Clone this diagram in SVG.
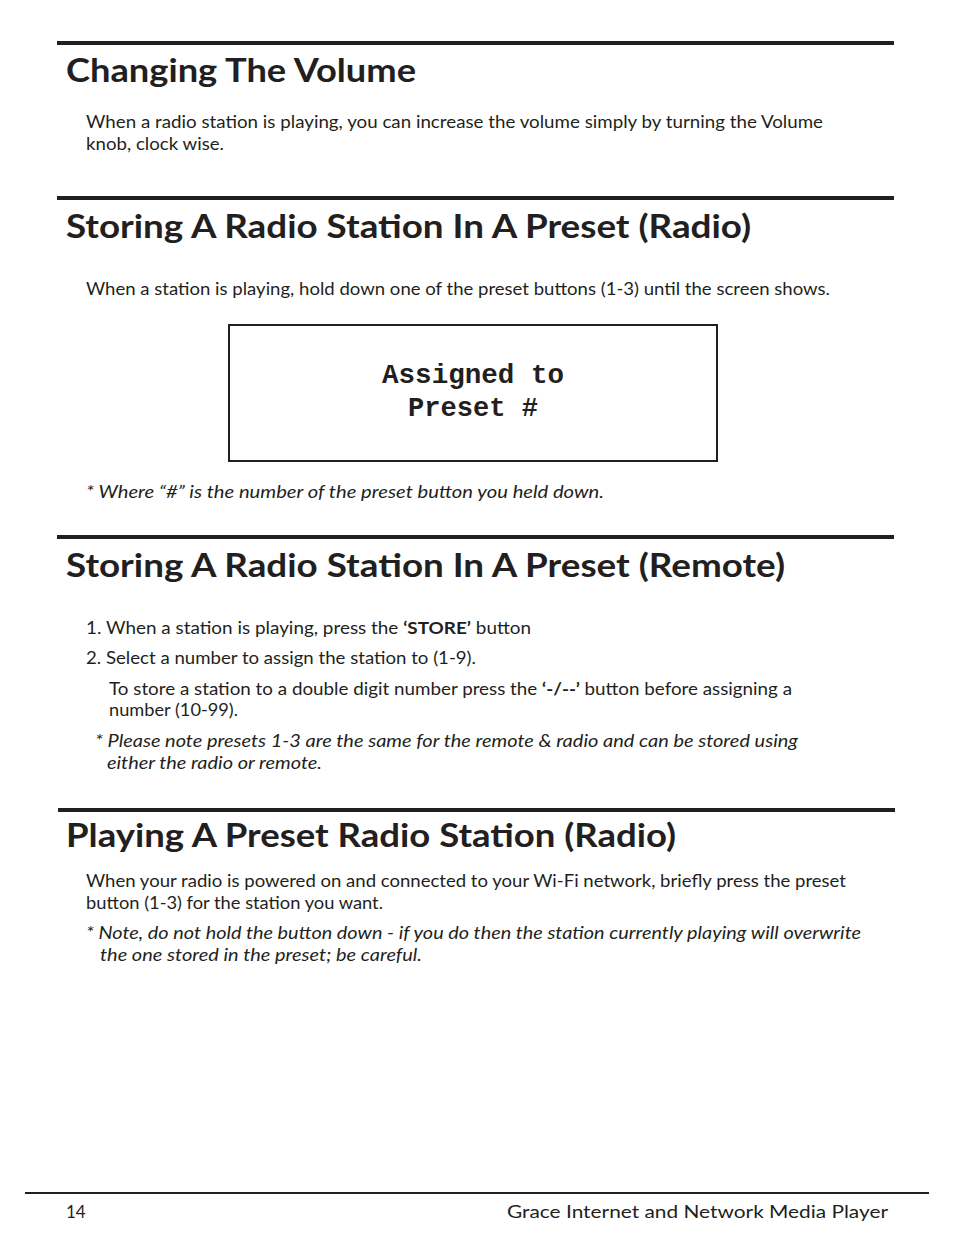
<svg xmlns="http://www.w3.org/2000/svg" width="954" height="1235" viewBox="0 0 954 1235">
<style>
.h{font-family:Lato,"Open Sans",sans-serif;font-size:33px;font-weight:bold;fill:#231f20}
.b{font-family:Lato,"Open Sans",sans-serif;font-size:17px;fill:#231f20}
.i{font-style:italic}
.m{font-family:"Liberation Mono","DejaVu Sans Mono",monospace;font-weight:bold;font-size:27px;fill:#231f20}
.r{stroke:#231f20;stroke-width:4}
</style>
<rect width="954" height="1235" fill="#fff"/>
<line class="r" x1="57" y1="43" x2="894" y2="43"/>
<text class="h" x="66" y="82" textLength="350" lengthAdjust="spacingAndGlyphs">Changing The Volume</text>
<text class="b" x="86" y="128" textLength="737" lengthAdjust="spacingAndGlyphs">When a radio station is playing, you can increase the volume simply by turning the Volume</text>
<text class="b" x="86" y="150" textLength="138" lengthAdjust="spacingAndGlyphs">knob, clock wise.</text>
<line class="r" x1="57" y1="198" x2="894" y2="198"/>
<text class="h" x="66" y="238" textLength="685" lengthAdjust="spacingAndGlyphs">Storing A Radio Station In A Preset (Radio)</text>
<text class="b" x="86" y="295" textLength="744" lengthAdjust="spacingAndGlyphs">When a station is playing, hold down one of the preset buttons (1-3) until the screen shows.</text>
<rect x="229" y="325" width="488" height="136" fill="none" stroke="#231f20" stroke-width="2"/>
<text class="m" x="473" y="383" text-anchor="middle" textLength="182" lengthAdjust="spacingAndGlyphs">Assigned to</text>
<text class="m" x="473" y="416" text-anchor="middle" textLength="130" lengthAdjust="spacingAndGlyphs">Preset #</text>
<text class="b i" x="86" y="498" textLength="518" lengthAdjust="spacingAndGlyphs">* Where “#” is the number of the preset button you held down.</text>
<line class="r" x1="57" y1="537" x2="894" y2="537"/>
<text class="h" x="66" y="577" textLength="719" lengthAdjust="spacingAndGlyphs">Storing A Radio Station In A Preset (Remote)</text>
<text class="b" x="86" y="634" textLength="445" lengthAdjust="spacingAndGlyphs">1.  When a station is playing, press the <tspan font-weight="bold">‘STORE’</tspan> button</text>
<text class="b" x="86" y="664" textLength="390" lengthAdjust="spacingAndGlyphs">2. Select a number to assign the station to (1-9).</text>
<text class="b" x="109" y="695" textLength="683" lengthAdjust="spacingAndGlyphs">To store a station to a double digit number press the <tspan font-weight="bold">‘-/--’</tspan> button before assigning a</text>
<text class="b" x="109" y="716" textLength="129" lengthAdjust="spacingAndGlyphs">number (10-99).</text>
<text class="b i" x="95" y="747" textLength="703" lengthAdjust="spacingAndGlyphs">* Please note presets 1-3 are the same for the remote &amp; radio and can be stored using</text>
<text class="b i" x="107" y="769" textLength="215" lengthAdjust="spacingAndGlyphs">either the radio or remote.</text>
<line class="r" x1="58" y1="810" x2="895" y2="810"/>
<text class="h" x="66" y="847" textLength="610" lengthAdjust="spacingAndGlyphs">Playing A Preset Radio Station (Radio)</text>
<text class="b" x="86" y="887" textLength="760" lengthAdjust="spacingAndGlyphs">When your radio is powered on and connected to your Wi-Fi network, briefly press the preset</text>
<text class="b" x="86" y="909" textLength="297" lengthAdjust="spacingAndGlyphs">button (1-3) for the station you want.</text>
<text class="b i" x="86" y="939" textLength="775" lengthAdjust="spacingAndGlyphs">* Note, do not hold the button down - if you do then the station currently playing will overwrite</text>
<text class="b i" x="100" y="961" textLength="322" lengthAdjust="spacingAndGlyphs">the one stored in the preset; be careful.</text>
<line x1="25" y1="1193" x2="929" y2="1193" stroke="#231f20" stroke-width="2"/>
<text class="b" x="66" y="1218" font-size="18">14</text>
<text class="b" x="888" y="1218" font-size="18" text-anchor="end" textLength="381" lengthAdjust="spacingAndGlyphs">Grace Internet and Network Media Player</text>
</svg>
